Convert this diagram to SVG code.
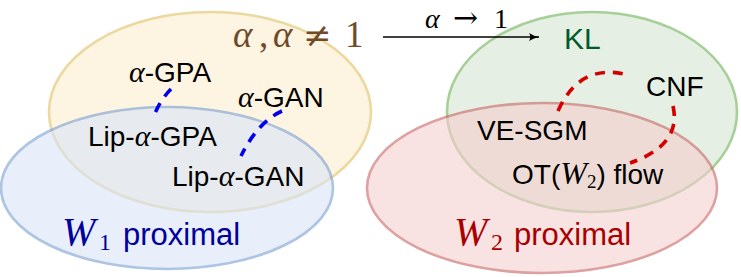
<svg xmlns="http://www.w3.org/2000/svg" width="741" height="277" viewBox="0 0 741 277">
<style>
.set{stroke-width:2.6;opacity:0.6}
.lbl{font-family:"Liberation Sans",Arial,sans-serif;font-size:28px;fill:#000}
.m{font-family:"Liberation Serif","Times New Roman",serif;font-style:italic}
.mu{font-family:"Liberation Serif","Times New Roman",serif;font-style:normal}
.op{font-family:"DejaVu Serif",serif;font-style:normal;font-weight:normal}
.blue{fill:none;stroke:#0000ee;stroke-width:3.6;stroke-dasharray:10 8}
.red{fill:none;stroke:#d40000;stroke-width:3.6;stroke-dasharray:10 8}
</style>
<defs>
<marker id="ah" markerWidth="12" markerHeight="10" refX="10" refY="5" orient="auto" markerUnits="userSpaceOnUse">
<path d="M0,1 Q5,4.2 10,5 Q5,5.8 0,9 Q2.5,5 0,1 Z" fill="#000"/>
</marker>
</defs>
<rect width="741" height="277" fill="#fff"/>
<g id="set-alpha"><ellipse class="set" cx="210" cy="112" rx="161" ry="100" fill="#fceecf" stroke="#dfc061"/></g>
<g id="set-w1"><ellipse class="set" cx="167" cy="188" rx="166" ry="81" fill="#d9e4f7" stroke="#789dd2"/></g>
<g id="set-kl"><ellipse class="set" cx="592" cy="112" rx="145" ry="100" fill="#d5e6d2" stroke="#6eb157"/></g>
<g id="set-w2"><ellipse class="set" cx="542" cy="188" rx="175" ry="85" fill="#f5cfcf" stroke="#c86464"/></g>

<g id="title-alpha"><text y="47" fill="#6f4a2a" font-size="37"><tspan class="m" x="233">α</tspan><tspan class="mu" x="259">,</tspan><tspan class="m" x="273">α</tspan><tspan class="op" x="303" font-size="34">≠</tspan><tspan class="mu" x="345">1</tspan></text></g>
<g id="title-kl"><text class="lbl" x="564" y="49" style="fill:#005a2b;font-size:30px">KL</text></g>
<g id="title-w1"><text class="lbl" y="245" style="fill:#00009c;font-size:31px"><tspan class="m" font-size="40" x="62">W</tspan><tspan class="mu" font-size="24" x="99" dy="5">1</tspan><tspan x="123" dy="-5">proximal</tspan></text></g>
<g id="title-w2"><text class="lbl" y="245" style="fill:#a80000;font-size:31px"><tspan class="m" font-size="40" x="454">W</tspan><tspan class="mu" font-size="24" x="491" dy="5">2</tspan><tspan x="514" dy="-5">proximal</tspan></text></g>

<g id="n-agpa"><text class="lbl" x="129" y="82"><tspan class="m" font-size="30">α</tspan>-GPA</text></g>
<g id="n-agan"><text class="lbl" x="238" y="107"><tspan class="m" font-size="30">α</tspan>-GAN</text></g>
<g id="n-lipgpa"><text class="lbl" x="88" y="146">Lip-<tspan class="m" font-size="30">α</tspan>-GPA</text></g>
<g id="n-lipgan"><text class="lbl" x="172" y="186">Lip-<tspan class="m" font-size="30">α</tspan>-GAN</text></g>
<g id="n-vesgm"><text class="lbl" x="477" y="140">VE-SGM</text></g>
<g id="n-cnf"><text class="lbl" x="646" y="96">CNF</text></g>
<g id="n-ot"><text class="lbl" x="512" y="184">OT(<tspan class="m" font-size="32">W</tspan><tspan class="mu" font-size="19" dy="4">2</tspan><tspan dy="-4">) flow</tspan></text></g>

<g id="connectors">
<path class="blue" d="M171,89 Q160,100 153,118"/>
<path class="blue" d="M282,111 Q258,122 241,156"/>
<path class="red" d="M558,111 Q580,62 628,75"/>
<path class="red" d="M673,106 Q682,145 630,163"/>
<line x1="383" y1="37" x2="539" y2="37" stroke="#000" stroke-width="1.3" marker-end="url(#ah)"/>
<text y="28" font-size="28" fill="#000"><tspan class="m" x="425">α</tspan><tspan class="op" x="453" font-size="30">→</tspan><tspan class="mu" x="494">1</tspan></text>
</g>
</svg>
